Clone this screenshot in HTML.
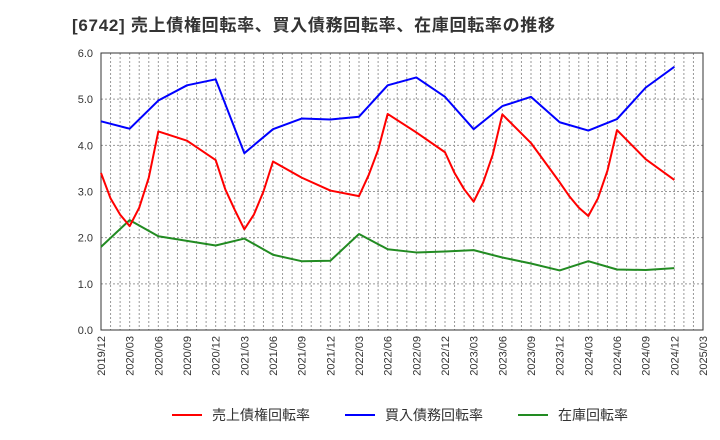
<!DOCTYPE html>
<html><head><meta charset="utf-8"><style>
body{margin:0;background:#fff;}
svg{display:block;font-family:"Liberation Sans","Noto Sans CJK JP",sans-serif;}
</style></head><body>
<svg id="c" width="720" height="440">
<text x="72" y="31" font-size="17" font-weight="bold" fill="#333" textLength="483">[6742]  売上債権回転率、買入債務回転率、在庫回転率の推移</text>
<g id="grid"></g><g id="axes"></g><g id="series"></g>
<g>
<line x1="172" y1="415" x2="202" y2="415" stroke="#f00" stroke-width="2"/>
<text x="212" y="420" font-size="14" fill="#333">売上債権回転率</text>
<line x1="345" y1="415" x2="375" y2="415" stroke="#00f" stroke-width="2"/>
<text x="385" y="420" font-size="14" fill="#333">買入債務回転率</text>
<line x1="518" y1="415" x2="548" y2="415" stroke="#228b22" stroke-width="2"/>
<text x="558" y="420" font-size="14" fill="#333">在庫回転率</text>
</g>
</svg>
<script>
const xLabels=["2019/12","2020/03","2020/06","2020/09","2020/12","2021/03","2021/06","2021/09","2021/12","2022/03","2022/06","2022/09","2022/12","2023/03","2023/06","2023/09","2023/12","2024/03","2024/06","2024/09","2024/12","2025/03"];
const yTicks=[0,1,2,3,4,5,6];
const redMonths=[0,1,2,3,4,5,6,9,12,13,14,15,16,17,18,21,24,27,28,29,30,33,36,37,38,39,40,41,42,45,48,49,50,51,52,53,54,57,60];
const redValues=[3.4,2.85,2.5,2.25,2.65,3.3,4.3,4.1,3.68,3.05,2.6,2.18,2.5,3.0,3.65,3.3,3.02,2.9,3.35,3.9,4.68,4.28,3.85,3.4,3.05,2.78,3.2,3.8,4.67,4.05,3.2,2.9,2.65,2.47,2.85,3.45,4.33,3.7,3.25];
const blueValues=[4.52,4.36,4.97,5.3,5.43,3.83,4.35,4.58,4.56,4.62,5.3,5.47,5.05,4.35,4.85,5.05,4.5,4.32,4.57,5.25,5.7];
const greenValues=[1.8,2.38,2.03,1.93,1.83,1.98,1.63,1.49,1.5,2.08,1.75,1.68,1.7,1.73,1.57,1.44,1.29,1.49,1.31,1.3,1.34];
const X0=101,X1=703,Y0=330,Y1=53;
const xm=m=>X0+(X1-X0)*m/63;
const y=v=>Y0-(Y0-Y1)*v/6;
const NS="http://www.w3.org/2000/svg";
function mk(t,a,p){const e=document.createElementNS(NS,t);for(const k in a)e.setAttribute(k,a[k]);p.appendChild(e);return e;}
const grid=document.getElementById('grid'),axes=document.getElementById('axes'),ser=document.getElementById('series');
for(let m=1;m<63;m++){const l=mk('line',{x1:xm(m),x2:xm(m),y1:Y1,y2:Y0,stroke:'#999','stroke-width':1,'stroke-dasharray':'2,2'},grid);

}
yTicks.forEach(v=>{const l=mk('line',{x1:X0,x2:X1,y1:y(v),y2:y(v),stroke:'#999','stroke-width':1,'stroke-dasharray':'2,2'},grid);


const t=mk('text',{x:X0-8,y:y(v)+4,'text-anchor':'end','font-size':11,fill:'#333'},axes);t.textContent=v.toFixed(1);

});
xLabels.forEach((s,i)=>{const x=xm(i*3);const t=mk('text',{transform:`translate(${x+4},336) rotate(-90)`,'text-anchor':'end','font-size':11,fill:'#333'},axes);t.textContent=s;

});
const fr=mk('rect',{x:X0,y:Y1,width:X1-X0,height:Y0-Y1,fill:'none',stroke:'#333','stroke-width':1},axes);


function line(ms,vs,c,name){const p=mk('polyline',{points:ms.map((m,i)=>xm(m)+','+y(vs[i])).join(' '),fill:'none',stroke:c,'stroke-width':2,'stroke-linejoin':'round'},ser);

}
const q=blueValues.map((_,i)=>i*3);
line(q,greenValues,'#228b22','inventory-turnover-line');
line(q,blueValues,'#0000ff','payables-turnover-line');
line(redMonths,redValues,'#ff0000','receivables-turnover-line');
</script>
</body></html>
